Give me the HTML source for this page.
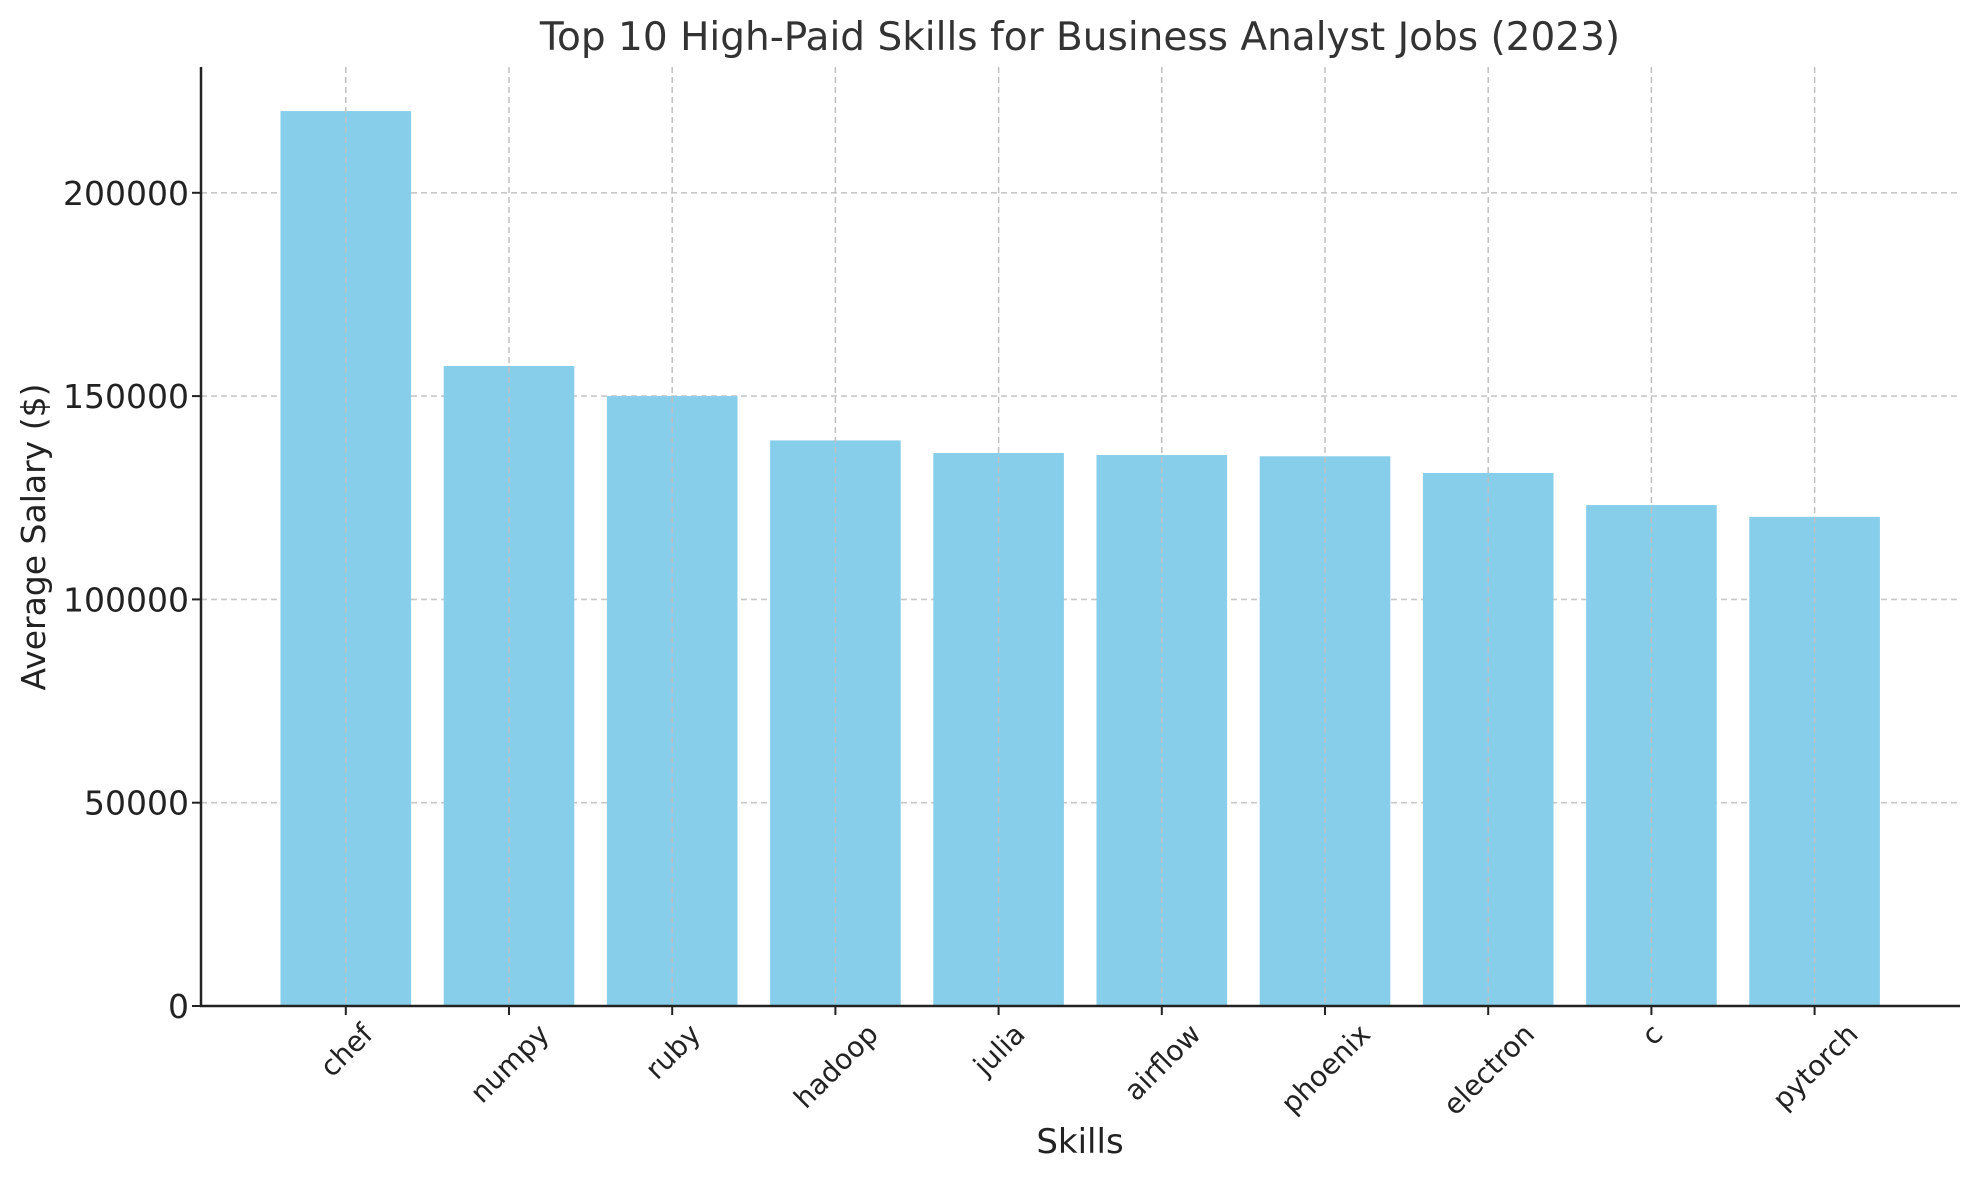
<!DOCTYPE html>
<html><head><meta charset="utf-8"><style>
html,body{margin:0;padding:0;background:#fff}
svg text{font-family:"DejaVu Sans","Liberation Sans",sans-serif}
</style></head><body>
<svg id="chart" width="1979" height="1180" xmlns="http://www.w3.org/2000/svg">
<rect width="1979" height="1180" fill="#fff"/>
<g id="grid"></g>
<g id="bars"></g>
<g id="axes"></g>
<text x="1080" y="50" text-anchor="middle" font-size="39" fill="#333">Top 10 High-Paid Skills for Business Analyst Jobs (2023)</text>
<text x="1080" y="1153" text-anchor="middle" font-size="34" fill="#222">Skills</text>
<text transform="translate(45,537) rotate(-90)" text-anchor="middle" font-size="33" fill="#222">Average Salary ($)</text>
</svg>
<script>
const categories = ["chef","numpy","ruby","hadoop","julia","airflow","phoenix","electron","c","pytorch"];
const salaries = [220100,157400,150000,139100,136000,135500,135200,131100,123200,120300];
const yTicks = [0,50000,100000,150000,200000];

const NS = "http://www.w3.org/2000/svg";
const plotLeft = 201, plotRight = 1960, plotTop = 67, plotBottom = 1006;
const x0 = 345.8, step = 163.2, barW = 130.6;
const pxPerUnit = 203.3 / 50000;
function xScale(i){ return x0 + i * step; }
function yScale(v){ return plotBottom - v * pxPerUnit; }

const gridG = document.getElementById('grid');
const barsG = document.getElementById('bars');
const axesG = document.getElementById('axes');
function mk(tag, attrs, parent){
  const e = document.createElementNS(NS, tag);
  for (const k in attrs) e.setAttribute(k, attrs[k]);
  parent.appendChild(e);
  return e;
}

yTicks.forEach(function(t){
  const y = yScale(t);
  if (t > 0) {
    const g = mk('line', {x1:plotLeft, x2:plotRight, y1:y, y2:y, stroke:'#c8c8c8', 'stroke-width':1.6, 'stroke-dasharray':'6,4'}, gridG);
    
    
  }
  const tk = mk('line', {x1:plotLeft-9, x2:plotLeft, y1:y, y2:y, stroke:'#222', 'stroke-width':2}, axesG);
  
  
  const lb = mk('text', {x:plotLeft-12, y:y+12, 'text-anchor':'end', 'font-size':33, fill:'#222'}, axesG);
  lb.textContent = String(t);
  
  
});

categories.forEach(function(c, i){
  const x = xScale(i);
  const y = yScale(salaries[i]);
  const r = mk('rect', {x:x - barW/2, y:y, width:barW, height:plotBottom - y, fill:'#87ceeb'}, barsG);
  
  
});

categories.forEach(function(c, i){
  const x = xScale(i);
  const g = mk('line', {x1:x, x2:x, y1:plotTop, y2:plotBottom, stroke:'#c0c0c0', 'stroke-width':1.5, 'stroke-dasharray':'6,4'}, gridG.parentNode);
  
  
});

categories.forEach(function(c, i){
  const x = xScale(i);
  const tk = mk('line', {x1:x, x2:x, y1:plotBottom, y2:plotBottom+9, stroke:'#222', 'stroke-width':2}, axesG);
  
  
  const lb = mk('text', {x:0, y:0, 'text-anchor':'middle', 'font-size':28, fill:'#222'}, axesG);
  lb.textContent = c;
  
  
  let L = c.length * 16;
  try { const m = lb.getComputedTextLength(); if (m > 0) L = m; } catch (e) {}
  const h = 28 * 0.75;
  const cy = 1021 + (L + h) * 0.7071 / 2;
  lb.setAttribute('transform', 'translate(' + x + ',' + cy + ') rotate(-45) translate(0,' + (h*0.5) + ')');
});

const ya = mk('line', {x1:plotLeft, x2:plotLeft, y1:plotTop, y2:plotBottom+1, stroke:'#222', 'stroke-width':2.5}, axesG);


const xa = mk('line', {x1:plotLeft-1, x2:plotRight, y1:plotBottom, y2:plotBottom, stroke:'#222', 'stroke-width':2.5}, axesG);


</script>
</body></html>
